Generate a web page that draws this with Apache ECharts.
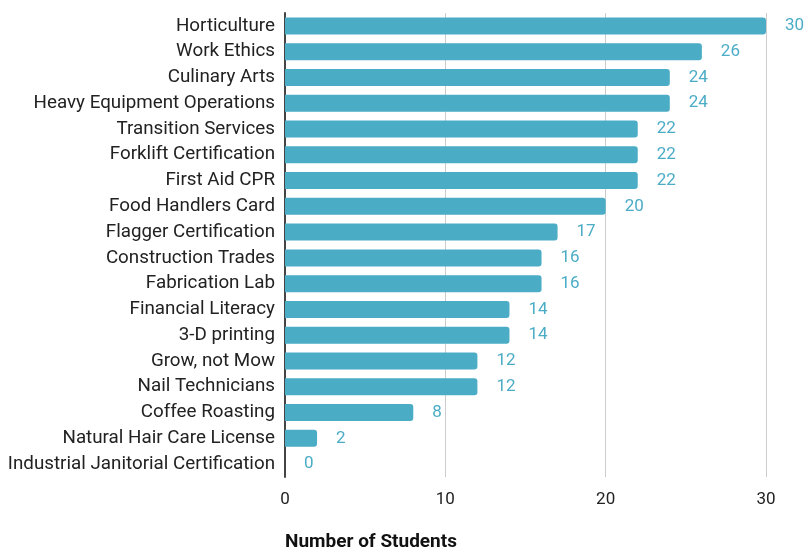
<!DOCTYPE html>
<html>
<head>
<meta charset="utf-8">
<script src="https://cdn.jsdelivr.net/npm/echarts@6/dist/echarts.min.js"></script>
<style>
  html, body { margin: 0; padding: 0; background: #fff; }
  #main { width: 811px; height: 549px; }
</style>
</head>
<body>
<div id="main"></div>
<script>
// top to bottom as shown
const courses = [
  'Horticulture', 'Work Ethics', 'Culinary Arts', 'Heavy Equipment Operations',
  'Transition Services', 'Forklift Certification', 'First Aid CPR', 'Food Handlers Card',
  'Flagger Certification', 'Construction Trades', 'Fabrication Lab', 'Financial Literacy',
  '3-D printing', 'Grow, not Mow', 'Nail Technicians', 'Coffee Roasting',
  'Natural Hair Care License', 'Industrial Janitorial Certification'
];
const students = [30, 26, 24, 24, 22, 22, 22, 20, 17, 16, 16, 14, 14, 12, 12, 8, 2, 0];
const xTicks = [0, 10, 20, 30];

const barColor = '#4bacc6';
let chart = echarts.init(document.getElementById('main'));

chart.setOption({
  animation: false,
  textStyle: { fontFamily: 'Roboto' },
  title: {
    text: 'Number of Students',
    left: 280,
    top: 528,
    textStyle: { fontSize: 19, fontWeight: 'bold', color: '#111', fontFamily: 'Roboto' }
  },
  grid: { left: 285, right: 45, top: 13, bottom: 72, containLabel: false },
  xAxis: {
    type: 'value',
    min: xTicks[0],
    max: xTicks[xTicks.length - 1],
    interval: 10,
    axisLine: { show: false },
    axisTick: { show: false },
    splitLine: { lineStyle: { color: '#cccccc', width: 1 } },
    axisLabel: { color: '#222', fontSize: 17, margin: 14 }
  },
  yAxis: {
    type: 'category',
    data: courses,
    inverse: true,
    axisLine: { lineStyle: { color: '#444', width: 2 } },
    axisTick: { show: false },
    axisLabel: { color: '#222', fontSize: 18.8, margin: 10 }
  },
  series: [{
    type: 'bar',
    data: students,
    barWidth: 17,
    itemStyle: { color: barColor, borderRadius: [0, 3, 3, 0] },
    label: {
      show: true,
      position: 'right',
      distance: 19,
      color: barColor,
      fontSize: 17
    }
  }]
});
</script>
</body>
</html>
